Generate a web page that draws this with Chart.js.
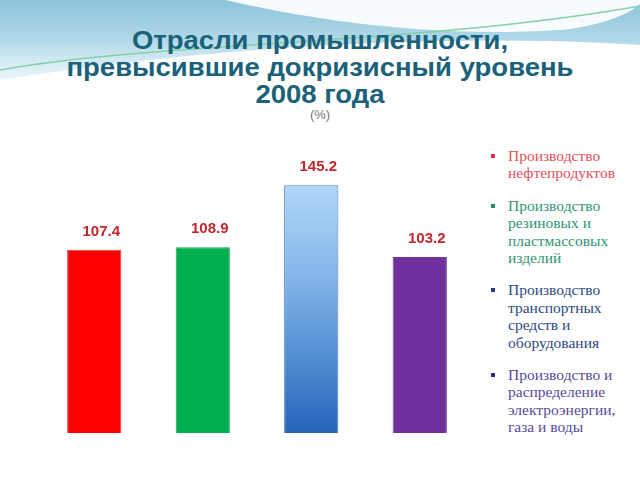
<!DOCTYPE html>
<html>
<head>
<meta charset="utf-8">
<script src="https://cdn.jsdelivr.net/npm/chart.js@4"></script>
<style>
  body { margin: 0; }
  #wrap { position: relative; width: 640px; height: 480px; overflow: hidden; background: #fff; }
  #bg { position: absolute; left: 0; top: 0; }
  #title {
    position: absolute; left: 0; top: 27px; width: 640px; text-align: center;
    font: bold 25px "Liberation Sans", Arial, sans-serif; color: #1a6179; line-height: 27px;
    transform: scaleX(1.1); transform-origin: 320px 0;
  }
  #unit {
    position: absolute; left: 0; top: 107px; width: 640px; text-align: center;
    font: 13px "Liberation Sans", Arial, sans-serif; color: #777;
  }
  #legend {
    position: absolute; left: 490px; top: 147px; margin: 0; padding: 0; list-style: none;
    font: 15.5px "Liberation Serif", "DejaVu Serif", serif; line-height: 17.4px;
  }
  #legend li { position: relative; padding-left: 18px; margin-bottom: 15px; white-space: pre-line; }
  #legend li span { position: absolute; left: 1px; top: 7px; width: 4px; height: 4px; }
  canvas { position: absolute; left: 0; top: 0; }
</style>
</head>
<body>
<div id="wrap">
  <svg id="bg" width="640" height="130">
    <defs>
      <linearGradient id="sky" x1="0" y1="0" x2="0" y2="1">
        <stop offset="0" stop-color="#8cc4dc"/>
        <stop offset="1" stop-color="#d6ecf4"/>
      </linearGradient>
      <linearGradient id="fade" x1="0" y1="0" x2="0" y2="1">
        <stop offset="0" stop-color="#ffffff" stop-opacity="0"/>
        <stop offset="1" stop-color="#ffffff" stop-opacity="1"/>
      </linearGradient>
    </defs>
    <path d="M0,0 H640 V45 C 480,35 260,40 0,80 Z" fill="url(#sky)"/>
    <path d="M0,40 H640 V60 C 480,45 260,50 0,90 Z" fill="url(#fade)" opacity="0.6"/>
    <path d="M225,0 C 320,22 440,38 560,30 C 600,26 630,14 640,4 V0 Z" fill="#ffffff" opacity="0.92"/>
    <path d="M0,70 C 150,42 420,45 640,6" fill="none" stroke="#84d0a8" stroke-width="1.5"/>
  </svg>
  <div id="title">Отрасли промышленности,<br>превысившие докризисный уровень<br>2008 года</div>
  <div id="unit">(%)</div>
  <ul id="legend"></ul>
  <canvas id="chart" width="640" height="480"></canvas>
</div>
<script>
const categories = [
  "Производство\nнефтепродуктов",
  "Производство\nрезиновых и\nпластмассовых\nизделий",
  "Производство\nтранспортных\nсредств и\nоборудования",
  "Производство и\nраспределение\nэлектроэнергии,\nгаза и воды"
];
const values = [107.4, 108.9, 145.2, 103.2];
const barColors = ["#ff0000", "#00b050", "gradient", "#7030a0"];
const borderColors = ["#d84040", "#2c9a5c", "#4a7fc0", "#6a3a98"];
const legendColors = ["#e2505c", "#2f9474", "#2d4a7e", "#574a98"];
const bulletColors = ["#e03050", "#1e9060", "#203a80", "#3a2a80"];

// legend on the right
const legend = document.getElementById("legend");
categories.forEach((c, i) => {
  const li = document.createElement("li");
  li.style.color = legendColors[i];
  li.textContent = c;
  const dot = document.createElement("span");
  dot.style.background = bulletColors[i];
  li.appendChild(dot);
  legend.appendChild(li);
});

function barFill(ctx) {
  const col = barColors[ctx.dataIndex];
  if (col !== "gradient") return col;
  const area = ctx.chart.chartArea;
  if (!area) return "#6aa6e0";
  const g = ctx.chart.ctx.createLinearGradient(0, area.top, 0, area.bottom);
  g.addColorStop(0, "#bfe0fc");
  g.addColorStop(0.45, "#7fb3e8");
  g.addColorStop(1, "#2566ba");
  return g;
}

// value labels above bars
const valueLabels = {
  id: "valueLabels",
  afterDatasetsDraw(chart) {
    const ctx = chart.ctx;
    const meta = chart.getDatasetMeta(0);
    ctx.save();
    ctx.font = "bold 15px 'Liberation Sans', Arial, sans-serif";
    ctx.fillStyle = "#c0272d";
    ctx.textAlign = "center";
    ctx.textBaseline = "middle";
    meta.data.forEach((bar, i) => {
      ctx.fillText(values[i].toFixed(1), bar.x + 7, bar.y - 18);
    });
    ctx.restore();
  }
};

const ctx = document.getElementById("chart").getContext("2d");
const myChart = new Chart(ctx, {
  type: "bar",
  data: {
    labels: categories,
    datasets: [{
      data: values,
      backgroundColor: barFill,
      borderColor: borderColors,
      borderWidth: 1,
      barPercentage: 0.5,
      categoryPercentage: 1
    }]
  },
  options: {
    responsive: false,
    animation: false,
    layout: { padding: { left: 40, right: 166, top: 160, bottom: 47 } },
    scales: {
      x: { display: false },
      y: { display: false, min: 0, max: 160 }
    },
    plugins: {
      legend: { display: false },
      tooltip: { enabled: false }
    }
  },
  plugins: [valueLabels]
});
</script>
</body>
</html>
